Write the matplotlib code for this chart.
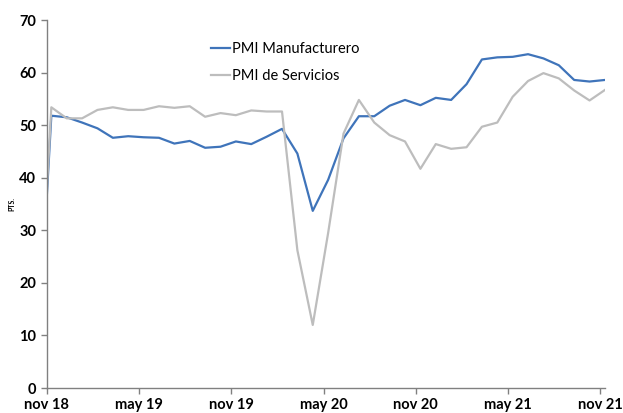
import numpy as np
import matplotlib
matplotlib.use("Agg")
from matplotlib import pyplot as plt

# monthly values, oct 18 (blank -> 0 in the source sheet) to nov 21
pmi_manuf = [0, 51.8, 51.5, 50.5, 49.4, 47.6, 47.9, 47.7, 47.6, 46.5, 47.0, 45.7, 45.9,
             46.9, 46.4, 47.8, 49.3, 44.6, 33.7, 39.6, 47.5, 51.7, 51.7, 53.7, 54.8,
             53.8, 55.2, 54.8, 57.8, 62.5, 62.9, 63.0, 63.5, 62.7, 61.4, 58.6, 58.3, 58.6]
pmi_serv = [0, 53.4, 51.3, 51.3, 52.9, 53.4, 52.9, 52.9, 53.6, 53.3, 53.6, 51.6, 52.3,
            51.9, 52.8, 52.6, 52.6, 26.2, 12.0, 29.5, 48.4, 54.8, 50.5, 48.1, 46.9,
            41.7, 46.4, 45.5, 45.8, 49.7, 50.5, 55.4, 58.4, 59.9, 58.9, 56.6, 54.7, 56.7]
tick_labels = ["nov 18", "may 19", "nov 19", "may 20", "nov 20", "may 21", "nov 21"]

x = np.arange(len(pmi_manuf)) - 1 + 0.3  # points sit a bit after the month start

plt.rcParams['font.family'] = ['Lato', 'DejaVu Sans']

fig = plt.figure(figsize=(6.23, 4.13), dpi=100)
ax = fig.add_axes([0.075, 0.0605, 0.896, 0.891])

ax.plot(x, pmi_manuf, color="#3f74ba", lw=1.6, label="PMI Manufacturero", zorder=2)
ax.plot(x, pmi_serv, color="#bdbdbd", lw=1.6, label="PMI de Servicios", zorder=3)

ax.set_xlim(0, x[-1])
ax.set_ylim(0, 70)
ax.set_yticks(range(0, 71, 10))
ax.set_xticks(np.arange(0, 37, 6))
ax.set_xticklabels(tick_labels)

for s in ["top", "right"]:
    ax.spines[s].set_visible(False)
for s in ["left", "bottom"]:
    ax.spines[s].set_color("#808080")
    ax.spines[s].set_linewidth(1.0)
    ax.spines[s].set_zorder(4)

ax.tick_params(axis="both", color="#808080", width=1.0, length=4, labelsize=10.5)
ax.tick_params(axis="x", pad=3)
for lab in ax.get_xticklabels() + ax.get_yticklabels():
    lab.set_fontweight("bold")

ax.set_ylabel("PTS.", fontsize=5, fontweight="bold", labelpad=3)

ax.legend(loc="upper left", bbox_to_anchor=(0.27, 0.975), frameon=False, fontsize=10.5,
          handlelength=1.3, handletextpad=0.2, labelspacing=0.85)

fig.savefig("out.png", dpi=100)
